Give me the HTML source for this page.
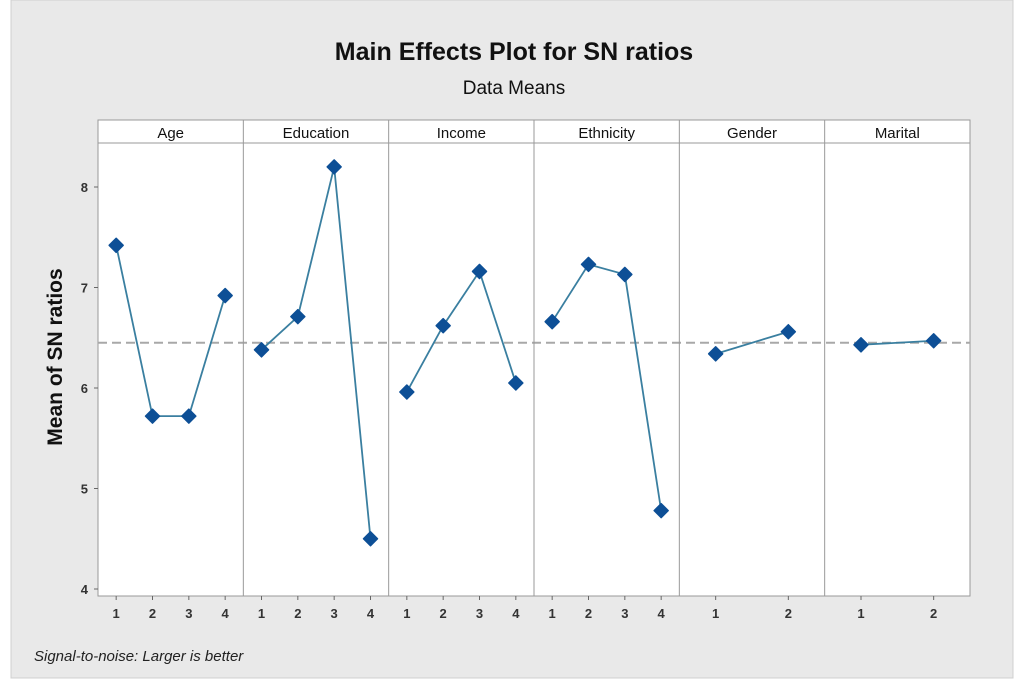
<!DOCTYPE html>
<html><head><style>
body{margin:0;background:#fff;width:1024px;height:689px;overflow:hidden;font-family:"Liberation Sans",sans-serif}
</style></head><body>
<svg id="chart" width="1024" height="689" style="position:absolute;left:0;top:0">
<rect x="11" y="0" width="1002" height="678" fill="#e9e9e9" stroke="#d0d0d0"/>
<text x="514" y="60" text-anchor="middle" font-size="25" font-weight="bold" fill="#111">Main Effects Plot for SN ratios</text>
<text x="514" y="94" text-anchor="middle" font-size="19" fill="#111">Data Means</text>
<text transform="translate(62,357) rotate(-90)" text-anchor="middle" font-size="21" font-weight="bold" fill="#111">Mean of SN ratios</text>
<text x="34" y="661" font-size="15" font-style="italic" fill="#222">Signal-to-noise: Larger is better</text>
<g id="g"></g>
</svg>
<script>
const factors=["Age","Education","Income","Ethnicity","Gender","Marital"];
const levels=[4,4,4,4,2,2];
const ageVals=[7.42,5.72,5.72,6.92];
const eduVals=[6.38,6.71,8.2,4.5];
const incVals=[5.96,6.62,7.16,6.05];
const ethVals=[6.66,7.23,7.13,4.78];
const genVals=[6.34,6.56];
const marVals=[6.43,6.47];
const series=[ageVals,eduVals,incVals,ethVals,genVals,marVals];
const grandMean=6.45;
const yTicks=[4,5,6,7,8];
const ns="http://www.w3.org/2000/svg",g=document.getElementById('g');
const L=98,R=970,T=143,B=596,HT=120,pw=(R-L)/6;
const y=v=>187+(8-v)*100.5;
const x=(p,l,n)=>L+p*pw+(l-0.5)*pw/n;
function mk(t,a,txt){const e=document.createElementNS(ns,t);for(const k in a)e.setAttribute(k,a[k]);if(txt!=null)e.textContent=txt;g.appendChild(e);return e;}
let e=mk('rect',{x:L,y:HT,width:R-L,height:B-HT,fill:'#fff',stroke:'#999'});


e=mk('line',{x1:L,x2:R,y1:T,y2:T,stroke:'#999'});


yTicks.forEach(t=>{
 e=mk('line',{x1:L-4,x2:L,y1:y(t),y2:y(t),stroke:'#666'});
 
 
 e=mk('text',{x:L-10,y:y(t)+5,'text-anchor':'end','font-size':13,'font-weight':'bold',fill:'#333'},t);
 
 
});
e=mk('line',{x1:L,x2:R,y1:y(grandMean),y2:y(grandMean),stroke:'#a8a8a8','stroke-width':2,'stroke-dasharray':'9,5'});


factors.forEach((f,p)=>{
 if(p>0){e=mk('line',{x1:L+p*pw,x2:L+p*pw,y1:HT,y2:B,stroke:'#999'});
 
 }
 e=mk('text',{x:L+p*pw+pw/2,y:138,'text-anchor':'middle','font-size':15,fill:'#111'},f);
 
 
 const n=levels[p],v=series[p];
 for(let l=1;l<=n;l++){
  e=mk('line',{x1:x(p,l,n),x2:x(p,l,n),y1:B,y2:B+4,stroke:'#666'});
  
  
  e=mk('text',{x:x(p,l,n),y:B+22,'text-anchor':'middle','font-size':13,'font-weight':'bold',fill:'#333'},l);
  
  
 }
 e=mk('polyline',{points:v.map((d,i)=>x(p,i+1,n)+','+y(d)).join(' '),fill:'none',stroke:'#3a7fa0','stroke-width':1.8});
 
 
 v.forEach((d,i)=>{const cx=x(p,i+1,n),cy=y(d);
  e=mk('polygon',{points:`${cx},${cy-7} ${cx+7},${cy} ${cx},${cy+7} ${cx-7},${cy}`,fill:'#0d4f96',stroke:'#0d4f96','stroke-linejoin':'round','stroke-width':1.5});
  
  
 });
});
</script>
</body></html>
